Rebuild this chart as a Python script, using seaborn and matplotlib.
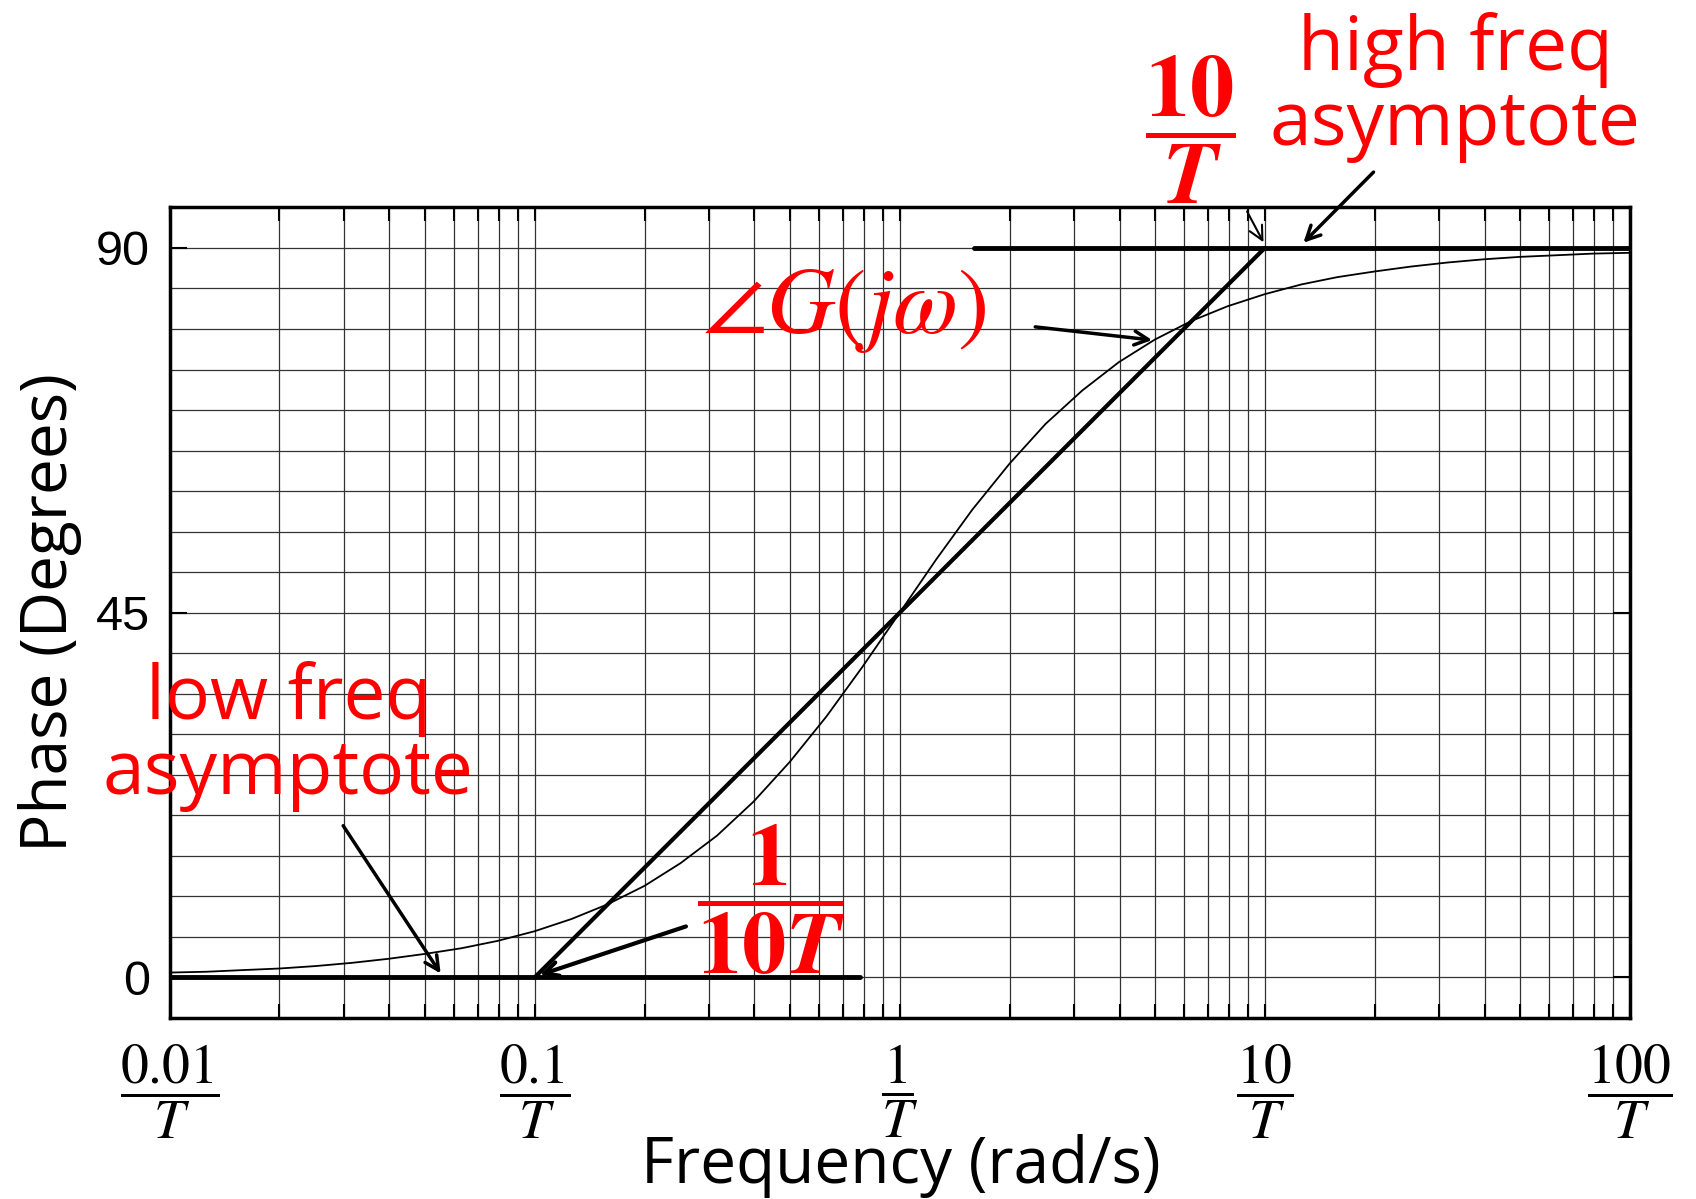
import numpy as np
import matplotlib
matplotlib.use("Agg")
import matplotlib.pyplot as plt
import seaborn as sns
from matplotlib.ticker import FixedLocator, LogLocator, MultipleLocator, NullFormatter

# values (frequency in units of 1/T)
freq = [0.01, 0.0126, 0.0158, 0.02, 0.0251, 0.0316, 0.0398, 0.05, 0.063, 0.079,
        0.1, 0.126, 0.158, 0.2, 0.251, 0.316, 0.398, 0.5, 0.63, 0.79,
        1, 1.26, 1.58, 2, 2.51, 3.16, 3.98, 5, 6.3, 7.9,
        10, 12.6, 15.8, 20, 25.1, 31.6, 39.8, 50, 63, 79, 100]
phase = [0.6, 0.7, 0.9, 1.1, 1.4, 1.8, 2.3, 2.9, 3.6, 4.5,
         5.7, 7.2, 9.0, 11.3, 14.1, 17.5, 21.7, 26.6, 32.2, 38.3,
         45.0, 51.6, 57.7, 63.4, 68.3, 72.4, 75.9, 78.7, 81.0, 82.8,
         84.3, 85.5, 86.4, 87.1, 87.7, 88.2, 88.6, 88.9, 89.1, 89.3, 89.4]

low_asym_x = [0.01, 0.78]
low_asym_y = [0, 0]
mid_asym_x = [0.1, 10]
mid_asym_y = [0, 90]
high_asym_x = [1.6, 100]
high_asym_y = [90, 90]

xtick_vals = [0.01, 0.1, 1, 10, 100]
xtick_labels = [r"$\dfrac{0.01}{T}$", r"$\dfrac{0.1}{T}$", r"$\dfrac{1}{T}$",
                r"$\dfrac{10}{T}$", r"$\dfrac{100}{T}$"]
ytick_vals = [0, 45, 90]

sns.set_style("white")
plt.rcParams['mathtext.fontset'] = 'stix'
plt.rcParams['font.family'] = ['Open Sans', 'DejaVu Sans']
for key in ['text.color', 'axes.labelcolor', 'xtick.color', 'ytick.color']:
    plt.rcParams[key] = 'black'

fig = plt.figure(figsize=(16.96, 11.99), dpi=100)
ax = fig.add_axes([0.100, 0.151, 0.861, 0.676])

sns.lineplot(x=freq, y=phase, ax=ax, color='black', lw=1.3, estimator=None)
sns.lineplot(x=low_asym_x, y=low_asym_y, ax=ax, color='black', lw=3.5, estimator=None)
sns.lineplot(x=mid_asym_x, y=mid_asym_y, ax=ax, color='black', lw=3.0, estimator=None)
sns.lineplot(x=high_asym_x, y=high_asym_y, ax=ax, color='black', lw=3.5, estimator=None)

ax.set_xscale('log')
ax.set_xlim(0.01, 100)
ax.set_ylim(-5, 95)

ax.xaxis.set_major_locator(FixedLocator(xtick_vals))
ax.set_xticklabels(xtick_labels, fontsize=40)
ax.xaxis.set_minor_locator(LogLocator(base=10, subs=np.arange(2, 10)))
ax.xaxis.set_minor_formatter(NullFormatter())
ax.yaxis.set_major_locator(FixedLocator(ytick_vals))
ax.set_yticklabels([str(v) for v in ytick_vals], fontsize=35, family='Liberation Sans')
ax.yaxis.set_minor_locator(MultipleLocator(5))

ax.tick_params(axis='x', which='both', direction='in', top=True, bottom=True,
               length=10, width=1.5, pad=18)
ax.tick_params(axis='y', which='major', direction='in', left=True, right=True,
               length=12, width=1.5, pad=14)
ax.tick_params(axis='y', which='minor', length=0)

ax.grid(True, which='both', axis='both', color='0.2', lw=0.9)
for s in ax.spines.values():
    s.set_linewidth(2.5)
    s.set_color('black')

fig.text(0.531, 0.013, "Frequency (rad/s)", fontsize=46, ha='center', va='baseline')
ax.set_ylabel("Phase (Degrees)", fontsize=46, labelpad=10)

red = '#ff0000'
fig.text(0.858, 0.927, "high freq\nasymptote", color=red, fontsize=54,
         ha='center', va='center', linespacing=1.0)
fig.text(0.702, 0.892, r"$\dfrac{\mathbf{10}}{\mathbfit{T}}$", color=red, fontsize=64,
         ha='center', va='center')
fig.text(0.498, 0.743, r"$\angle G(j\omega)$", color=red, fontsize=68,
         ha='center', va='center')
fig.text(0.170, 0.386, "low freq\nasymptote", color=red, fontsize=54,
         ha='center', va='center', linespacing=1.0)
fig.text(0.455, 0.250, r"$\dfrac{\mathbf{1}}{\mathbf{10}\mathbfit{T}}$", color=red, fontsize=64,
         ha='center', va='center')

arrow = dict(arrowstyle='->', color='black', lw=2.5, mutation_scale=25)
ax.annotate("", xy=(12.6, 90.4), xytext=(20.1, 99.6), arrowprops=arrow, annotation_clip=False)
ax.annotate("", xy=(10.0, 90.4), xytext=(8.87, 94.8), arrowprops=dict(arrow, lw=1.5),
            annotation_clip=False)
ax.annotate("", xy=(5.0, 78.6), xytext=(2.31, 80.3), arrowprops=arrow)
ax.annotate("", xy=(0.0558, 0.2), xytext=(0.0296, 19.0), arrowprops=arrow)
ax.annotate("", xy=(0.1016, 0.2), xytext=(0.264, 6.4), arrowprops=dict(arrow, lw=3))

fig.savefig("out.png", dpi=100)
